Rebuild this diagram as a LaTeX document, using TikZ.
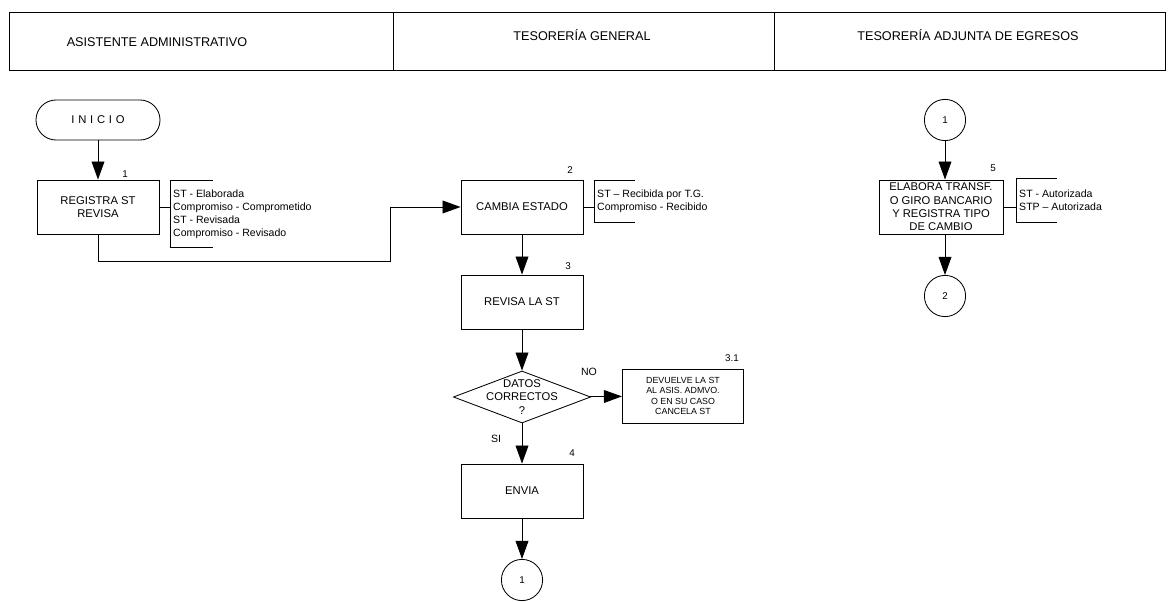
\documentclass[tikz,border=0pt]{standalone}
\usepackage{fontspec}
\setmainfont{Liberation Sans}
\usetikzlibrary{arrows.meta, shapes.geometric, positioning}

\begin{document}
\begin{tikzpicture}[
  x=0.025cm, y=-0.025cm,
  line width=0.6pt,
  proc/.style={rectangle, draw=black, minimum width=3.05cm, minimum height=1.35cm, align=center, inner sep=1pt, font=\fontsize{8}{9.5}\selectfont},
  decision/.style={diamond, draw=black, minimum width=3.43cm, minimum height=1.3cm, inner sep=0pt},
  term/.style={rectangle, draw=black, rounded corners=0.5cm, minimum width=3.1cm, minimum height=1cm, font=\fontsize{8}{9.5}\selectfont},
  conn/.style={circle, draw=black, minimum size=1.03cm, inner sep=0pt, font=\fontsize{7}{8}\selectfont},
  note/.style={rectangle, anchor=west, align=left, inner xsep=2pt, font=\fontsize{7.5}{9.2}\selectfont},
  num/.style={font=\fontsize{7}{8}\selectfont},
  lane/.style={font=\fontsize{9}{10.5}\selectfont},
  >/.tip={Triangle[length=4.5mm,width=3.2mm]}
]
\useasboundingbox (0,0) rectangle (1169,602);

% header
\draw (9,12) rectangle (1165,70);
\draw (393,12) -- (393,70);
\draw (774,12) -- (774,70);
\node (h1) [lane] at (157,42) {ASISTENTE ADMINISTRATIVO};
\node (h2) [lane] at (582,35) {TESORERÍA GENERAL};
\node (h3) [lane] at (968,35) {TESORERÍA ADJUNTA DE EGRESOS};

% asistente
\node (ini) at (98,120) [term] {I\,\,N\,\,I\,\,C\,\,I\,\,O};
\node (reg) at (98,207) [proc] {REGISTRA ST\\REVISA};
\node (l1) at (125,174) [num] {1};
\node (n1) at (170,214) [note, minimum height=1.65cm] {ST - Elaborada\\Compromiso - Comprometido\\ST - Revisada\\Compromiso - Revisado};
\coordinate (bend) at (390,261);

% tesoreria general
\node (cam) at (522,207) [proc] {CAMBIA ESTADO};
\node (l2) at (570,170) [num] {2};
\node (n2) at (594,201) [note, minimum height=1.03cm] {ST -- Recibida por T.G.\\Compromiso - Recibido};
\node (rev) at (522,302) [proc] {REVISA LA ST};
\node (l3) at (568,266) [num] {3};
\node (dec) at (522,397) [decision, label={[align=center, font=\fontsize{8}{9.5}\selectfont]center:DATOS\\CORRECTOS\\?}] {};
\node (dev) at (683,396) [proc, minimum width=3.03cm, font=\fontsize{6.3}{7.3}\selectfont] {DEVUELVE LA ST\\AL ASIS. ADMVO.\\O EN SU CASO\\CANCELA ST};
\node (l31) at (732,358) [num] {3.1};
\node (no) at (589,372) [num, font=\fontsize{7.5}{9}\selectfont] {NO};
\node (si) at (496,439) [num, font=\fontsize{7.5}{9}\selectfont] {SI};
\node (env) at (522,491) [proc] {ENVIA};
\node (l4) at (572,453) [num] {4};
\node (c1) at (522,580) [conn] {1};

% tesoreria adjunta
\node (c1b) at (945,120) [conn] {1};
\node (ela) at (941,207) [proc, minimum width=3.1cm] {ELABORA TRANSF.\\O GIRO BANCARIO\\Y REGISTRA TIPO\\DE CAMBIO};
\node (l5) at (993,168) [num] {5};
\node (n5) at (1016,200) [note, minimum height=1.08cm] {ST - Autorizada\\STP -- Autorizada};
\node (c2) at (945,296) [conn] {2};

% brackets
\draw (n1.north west) ++(43,0) -- (n1.north west) -- (n1.south west) -- ++(43,0);
\draw (n2.north west) ++(41,0) -- (n2.north west) -- (n2.south west) -- ++(41,0);
\draw (n5.north west) ++(41,0) -- (n5.north west) -- (n5.south west) -- ++(41,0);
\draw (reg.east) -- (reg.east -| n1.west);
\draw (cam.east) -- (cam.east -| n2.west);
\draw (ela.east) -- (ela.east -| n5.west);

% flow
\draw [->] (ini) -- (reg);
\draw [->] (reg.south) |- (bend) |- (cam.west);
\draw [->] (cam) -- (rev);
\draw [->] (rev) -- (dec);
\draw [->] (dec) -- (dev);
\draw [->] (dec) -- (env);
\draw [->] (env) -- (c1);
\draw [->] (c1b) -- (c1b |- ela.north);
\draw [->] (c1b |- ela.south) -- (c2);

\end{tikzpicture}
\end{document}
